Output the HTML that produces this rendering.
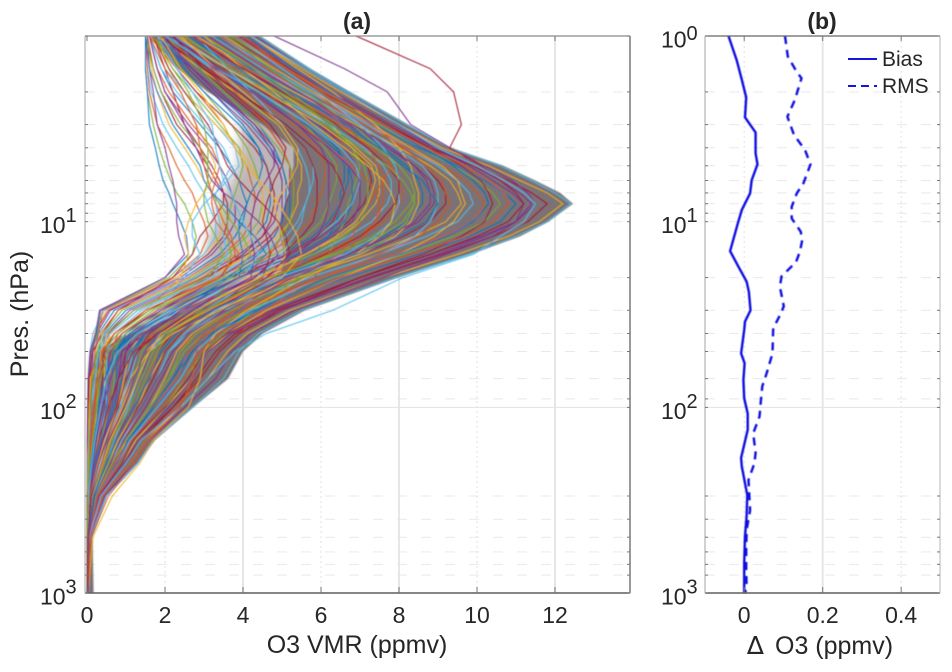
<!DOCTYPE html>
<html lang="en">
<head>
<meta charset="utf-8">
<title>O3 profiles and bias</title>
<style>
html,body{margin:0;padding:0;background:#fff;}
svg{display:block;font-family:"Liberation Sans",sans-serif;}
text{fill:#262626;}
</style>
</head>
<body>
<svg id="figure" width="952" height="672" viewBox="0 0 952 672" xmlns="http://www.w3.org/2000/svg">
  <defs>
    <clipPath id="clipA"><rect x="85" y="36" width="545" height="557"/></clipPath>
    <filter id="soft" x="-2%" y="-2%" width="104%" height="104%"><feGaussianBlur stdDeviation="0.4"/></filter>
    <filter id="softDense" x="-5%" y="-5%" width="110%" height="110%"><feGaussianBlur stdDeviation="0.8"/></filter>
    <filter id="softMedium" x="-10%" y="-10%" width="120%" height="120%"><feGaussianBlur stdDeviation="6"/></filter>
  </defs>
  <g id="gridA"></g>
  <g id="gridB"></g>
  <g id="bandsA" clip-path="url(#clipA)"></g>
  <g id="curvesA" clip-path="url(#clipA)" filter="url(#soft)"></g>
  <g id="linesB" filter="url(#soft)"></g>
  <g id="axesA"></g>
  <g id="axesB"></g>

  <text x="357" y="29" text-anchor="middle" font-size="23" font-weight="bold">(a)</text>
  <text x="822" y="29" text-anchor="middle" font-size="23" font-weight="bold">(b)</text>
  <text transform="translate(28,314) rotate(-90)" text-anchor="middle" font-size="25">Pres. (hPa)</text>
  <text x="357" y="653" text-anchor="middle" font-size="25">O3 VMR (ppmv)</text>
  <text x="747" y="654" font-size="25"><tspan font-family="'DejaVu Sans',sans-serif">∆</tspan><tspan x="775">O3 (ppmv)</tspan></text>

  <g>
    <line x1="848" x2="877" y1="59" y2="59" stroke="#1616dc" stroke-width="2"/>
    <text x="882" y="66" font-size="21">Bias</text>
    <line x1="848" x2="877" y1="86" y2="86" stroke="#1616dc" stroke-width="2" stroke-dasharray="8 5"/>
    <text x="882" y="93" font-size="21">RMS</text>
  </g>
</svg>

<script>
// Pressure levels (hPa) shared by the profiles and density bands in panel (a)
const profileLevels = [1,1.5,2,3,4,5,6,7,8,10,12,15,20,30,40,50,70,100,150,200,300,500,1000];

// Limits of the profile cloud (ppmv)
const envelopeRight = [4.44,5.72,6.74,8.23,9.31,10.67,11.49,12.13,12.46,11.82,11.1,9.82,7.97,5.59,4.51,4.0,3.62,2.72,1.74,1.31,.51,.14,.17];
const denseLeft = [1.62,2.33,3.1,4.49,5.3,5.3,5.2,5.2,5.08,4.95,4.95,5.08,4.95,2.64,1.1,.25,.05,.02,.01,.01,0,0,0];
const mediumLeft = [2.4,3,3.8,4,3.9,3.9,3.7,3.5,3.4,3.3,3.1,3.1,2.7,2.2,1,.25,.03,.01,0,0,0,0,0];
const mediumRight = [2.6,3.4,4.3,5.6,6.7,7,7,7,7,7,7,7,6.5,3.4,1.4,.4,.1,.05,.03,.03,.02,.01,.01];

// Representative O3 profiles, one value per pressure level (ppmv)
const o3Profiles = [
[1.6,1.9,2.2,2.9,3.4,3.7,3.9,4,4.1,4,3.8,3.4,2.5,.7,.3,.2,.2,.15,.1,.05,.02,.01,.01],
[1.6,1.8,2,2.6,3.1,3.4,3.6,3.7,3.8,3.8,3.6,3.2,2.4,.6,.25,.15,.15,.1,.08,.04,.02,.01,.01],
[1.55,1.7,1.9,2.3,2.8,3.1,3.3,3.5,3.6,3.6,3.5,3.1,2.3,.55,.2,.12,.1,.08,.06,.03,.01,.01,.01],
[1.55,1.65,1.8,2.1,2.5,2.8,3,3.2,3.4,3.5,3.4,3,2.3,.5,.2,.1,.08,.06,.05,.03,.01,.01,.01],
[1.5,1.55,1.65,1.95,2.3,2.6,2.8,3,3.1,3.3,3.3,3,2.2,.45,.15,.08,.05,.05,.04,.02,.01,.01,.01],
[1.5,1.55,1.6,1.8,2.1,2.3,2.5,2.7,2.8,3,3.1,2.9,2.2,.4,.3,.12,.05,.04,.03,.02,.01,.01,.01],
[1.5,1.5,1.55,1.7,1.85,2,2.15,2.3,2.5,2.7,2.8,2.7,2.1,.35,.28,.1,.04,.03,.02,.01,.01,.01,.01],
[1.5,1.5,1.55,1.6,1.75,1.85,1.95,2.1,2.2,2.4,2.55,2.6,2,.35,.25,.1,.04,.03,.02,.01,.01,.01,.01],
[1.55,1.6,1.7,1.8,2,2.1,2.2,2.25,2.3,2.3,2.35,2.5,2,.32,.22,.08,.03,.02,.01,.01,.01,.01,.01],
[1.7,2,2.2,2.5,2.9,3.2,3.4,3.5,3.5,3.2,2.9,2.7,2.2,.8,.4,.15,.06,.04,.03,.02,.01,.01,.01],
[1.8,2.1,2.4,2.8,3.1,3.3,3.2,3,2.8,2.6,2.5,2.6,2.4,1.5,.7,.3,.1,.06,.04,.02,.01,.01,.01],
[1.6,2,2.5,3.3,3.8,3.9,3.6,3.3,3,2.7,2.7,2.9,2.5,1.8,1,.5,.2,.1,.05,.03,.02,.01,.01],
[1.6,2.3,2.8,3.5,3.8,4.1,4.2,4.3,4.3,4.2,4,3.5,2.6,.8,.35,.2,.2,.2,.15,.07,.02,.01,.01],
[1.7,2.4,3,3.7,4.1,4.3,4.4,4.5,4.5,4.4,4.1,3.6,2.7,.9,.4,.25,.25,.25,.18,.08,.02,.01,.01],
[1.8,2.6,3.2,4,4.4,4.6,4.7,4.7,4.7,4.6,4.3,3.8,2.8,1,.45,.3,.3,.3,.2,.09,.03,.01,.01],
[1.7,2.7,3.4,4.3,4.7,4.9,5,5,4.9,4.8,4.5,3.9,2.9,1.1,.5,.35,.35,.35,.22,.1,.03,.01,.01],
[1.9,2.9,3.6,4.6,5,5.2,5.2,5.2,5.1,5,4.7,4.1,3,1.2,.55,.4,.4,.4,.25,.12,.04,.01,.01],
[1.8,2.9,3.8,4.9,5.3,5.5,5.5,5.4,5.4,5.2,4.9,4.2,3.1,1.3,.6,.45,.45,.45,.28,.15,.04,.01,.01],
[2.1,3.2,4,5,5.6,5.8,5.8,5.7,5.6,5.4,5.1,4.4,3.2,1.4,.7,.5,.5,.5,.3,.16,.05,.01,.01],
[1.9,3.1,4.1,5.3,5.9,6.1,6.1,6,5.9,5.7,5.3,4.6,3.3,1.5,.8,.6,.6,.55,.32,.18,.05,.01,.01],
[2.3,3.5,4.4,5.6,6.1,6.4,6.4,6.3,6.2,6,5.6,4.8,3.5,1.7,.9,.7,.7,.6,.35,.2,.06,.01,.01],
[2,3.3,4.3,5.6,6.3,6.7,6.7,6.6,6.5,6.2,5.8,5,3.6,1.8,1,.8,.75,.65,.38,.22,.07,.02,.01],
[2.4,3.7,4.7,6,6.6,6.9,7,6.9,6.8,6.5,6,5.2,3.7,1.9,1.1,.9,.8,.7,.4,.25,.08,.02,.01],
[2.1,3.5,4.5,5.9,6.8,7.2,7.3,7.2,7.1,6.7,6.2,5.4,3.9,2,1.2,1,.9,.75,.42,.28,.09,.02,.01],
[2.6,3.9,4.9,6.2,6.9,7.4,7.5,7.5,7.4,7,6.5,5.6,4.1,2.2,1.4,1.1,.95,.8,.45,.3,.1,.02,.01],
[2.2,3.6,4.7,6.2,7.1,7.6,7.8,7.8,7.7,7.3,6.7,5.8,4.2,2.3,1.5,1.2,1,.85,.48,.32,.1,.02,.01],
[2.8,4.1,5.1,6.5,7.3,7.8,8,8.1,8,7.6,7,6,4.4,2.4,1.6,1.3,1.1,.9,.5,.35,.11,.02,.02],
[2.4,3.8,4.9,6.4,7.4,8,8.3,8.4,8.3,7.9,7.3,6.3,4.6,2.5,1.7,1.4,1.2,.95,.55,.38,.12,.02,.02],
[3,4.3,5.3,6.7,7.6,8.2,8.5,8.6,8.6,8.2,7.6,6.5,4.8,2.7,1.9,1.5,1.3,1,.6,.4,.14,.03,.02],
[2.6,4,5.1,6.7,7.7,8.4,8.8,8.9,8.9,8.5,7.8,6.7,5,2.9,2,1.6,1.4,1.1,.65,.45,.15,.03,.02],
[3.2,4.5,5.5,7,7.9,8.6,9,9.2,9.2,8.8,8.1,7,5.2,3.1,2.2,1.8,1.5,1.2,.7,.5,.18,.03,.02],
[2.8,4.2,5.3,6.9,8,8.8,9.3,9.5,9.6,9.2,8.4,7.2,5.4,3.3,2.4,2,1.6,1.3,.8,.55,.2,.03,.02],
[3.4,4.7,5.7,7.2,8.2,9,9.5,9.8,9.9,9.5,8.7,7.5,5.7,3.5,2.6,2.1,1.8,1.4,.85,.6,.2,.04,.02],
[3,4.4,5.5,7.1,8.2,9.1,9.7,10,10.2,9.9,9.1,7.9,6,3.8,2.8,2.3,1.9,1.5,.9,.65,.22,.04,.03],
[3.7,5,6,7.5,8.5,9.4,10,10.4,10.6,10.2,9.4,8.1,6.3,4.1,3,2.5,2.1,1.6,1,.7,.25,.04,.03],
[3.3,4.7,5.8,7.4,8.5,9.5,10.2,10.7,11,10.6,9.8,8.5,6.6,4.4,3.2,2.7,2.3,1.8,1.1,.8,.3,.05,.03],
[4,5.3,6.3,7.8,8.9,9.9,10.6,11.1,11.4,11,10.1,8.8,7,4.7,3.5,3,2.5,1.9,1.2,.9,.3,.05,.04],
[3.6,5,6,7.6,8.8,9.9,10.8,11.4,11.8,11.3,10.4,9.1,7.3,4.9,3.8,3.3,2.8,2.2,1.3,1,.35,.06,.04],
[4.2,5.5,6.5,8,9.1,10.3,11.1,11.8,12.2,11.6,10.8,9.5,7.6,5.2,4.1,3.6,3.1,2.4,1.5,1.1,.4,.07,.05],
[4.4,5.7,6.7,8.2,9.3,10.6,11.4,12,12.4,11.8,11,9.8,7.9,5.5,4.4,3.9,3.5,2.7,1.7,1.3,.5,.08,.05],
[3.5,4.8,5.8,7,7.6,7.8,7.6,7.4,7.2,7,6.8,6.5,5.8,4.6,3.9,3.4,2.9,2.3,1.5,1.1,.4,.06,.03],
[3,4.3,5.2,6.3,6.8,7,6.9,6.8,6.7,6.6,6.4,6.2,5.4,4.3,3.5,3,2.5,2,1.3,.95,.35,.05,.03],
[2.6,3.9,4.8,5.9,6.4,6.6,6.6,6.5,6.5,6.4,6.2,5.8,5,3.9,3,2.6,2.2,1.7,1.1,.8,.3,.05,.03],
[2.2,3.4,4.3,5.4,6,6.2,6.2,6.2,6.2,6.1,5.9,5.4,4.6,3.5,2.7,2.3,1.9,1.5,.95,.7,.25,.04,.02],
[2,3.1,3.9,5,5.6,5.8,5.9,5.9,5.9,5.8,5.5,5,4.3,3.2,2.4,2,1.7,1.3,.85,.6,.2,.04,.02],
[4.2,5.4,6.3,7.4,8,8.3,8.4,8.5,8.5,8.3,7.9,7,5.2,3.6,2.7,2.3,2,1.6,1,.75,.25,.04,.02],
[3.8,5,5.9,7,7.6,7.9,8,8,8,7.8,7.4,6.6,4.9,3.3,2.5,2.1,1.8,1.4,.9,.6,.2,.03,.02],
[3.4,4.6,5.5,6.6,7.2,7.5,7.6,7.6,7.6,7.4,7,6.2,4.6,3,2.1,1.8,1.6,1.2,.75,.5,.17,.03,.02],
[3,4.2,5.1,6.2,6.8,7.1,7.2,7.2,7.2,7,6.6,5.8,4.2,2.6,1.8,1.5,1.3,1,.6,.4,.13,.03,.02],
[2.6,3.8,4.7,5.8,6.4,6.7,6.8,6.8,6.8,6.6,6.2,5.4,3.9,2.3,1.5,1.2,1.1,.8,.5,.32,.1,.02,.02],
[4.3,5.6,6.6,8,8.9,9.8,10.4,10.9,11.2,11,10.4,9.2,7.6,5.3,4.2,3.7,3.3,2.5,1.6,1.2,.45,.07,.04],
[3.9,5.2,6.2,7.7,8.8,9.6,10.1,10.3,10.4,10.2,9.6,8.6,7,5,3.9,3.4,2.9,2.2,1.4,1,.35,.06,.03],
[3.5,4.8,5.8,7.3,8.3,9.1,9.5,9.6,9.7,9.4,8.9,8,6.5,4.6,3.6,3.1,2.7,2,1.25,.9,.3,.05,.03],
[3.2,4.5,5.5,7,7.9,8.6,8.9,9,9,8.8,8.4,7.5,6,4.2,3.3,2.8,2.4,1.8,1.1,.8,.28,.05,.03],
[4,5.1,6,7.3,8.1,8.7,9.1,9.2,9.3,9,8.5,7.5,6,4,3,2.6,2.3,1.7,1.05,.7,.24,.04,.02],
[3.6,4.7,5.6,6.8,7.5,8,8.3,8.4,8.4,8.2,7.8,6.9,5.5,3.7,2.8,2.4,2.1,1.6,1,.65,.22,.04,.02],
[2.2,2.9,3.5,4.4,4.8,5,5.1,5.2,5.2,5.2,5,4.6,3.7,2.2,1.2,.8,.6,.5,.35,.2,.08,.02,.01],
[2,2.6,3.2,4.1,4.6,4.9,5,5,5,5,4.8,4.3,3.4,1.9,.9,.6,.5,.45,.3,.18,.07,.02,.01],
[1.8,2.3,2.8,3.7,4.3,4.6,4.7,4.8,4.8,4.7,4.5,4,3.1,1.6,.7,.45,.4,.35,.25,.14,.05,.01,.01],
[1.7,2.1,2.5,3.3,3.9,4.2,4.4,4.5,4.5,4.5,4.3,3.8,2.9,1.3,.6,.35,.3,.25,.2,.1,.04,.01,.01],
[2.8,3.6,4.2,5,5.4,5.6,5.7,5.7,5.6,5.5,5.3,5,4.4,3,2,1.6,1.3,1.05,.7,.5,.2,.03,.02],
[2.5,3.2,3.8,4.6,5,5.2,5.3,5.3,5.3,5.2,5,4.7,4,2.7,1.7,1.3,1.1,.9,.6,.42,.17,.03,.02],
[2,2.9,3.5,4.4,4.9,5.2,5.3,5.3,5.3,5.2,5,4.6,3.8,2.9,2.1,1.8,1.5,1.2,.75,.55,.22,.04,.02],
[1.9,2.7,3.3,4.2,4.7,5,5.1,5.1,5.1,5,4.8,4.4,3.6,2.5,1.5,1.1,.9,.7,.45,.3,.12,.02,.01],
[4.8,6.6,7.7,8.3,9.3,10.2,10.9,11.3,11.5,11,10.2,9,7.2,5,3.7,3.1,2.7,2.1,1.3,.95,.32,.05,.03],
[6.9,8.8,9.4,9.6,9.3,10.1,10.6,11,11.2,10.8,10,8.8,7,4.8,3.6,3,2.6,2,1.2,.9,.3,.05,.03],
[3,4,4.8,5.8,6.6,7.2,7.6,7.8,7.9,7.8,7.5,6.9,5.6,4.1,3.3,3,2.9,2.6,1.7,1.35,.65,.15,.03],
[4.2,5.6,6.6,8,9,10,10.7,11.2,11.5,11.2,10.6,9.9,8.1,6.3,4.6,3.8,3.1,2.4,1.4,1,.35,.06,.03],
[2.8,3.8,4.6,5.5,6.2,6.8,7.2,7.4,7.5,7.4,7.1,6.5,5.2,3.8,3.1,2.8,2.7,2.4,1.6,1.2,.55,.1,.03],
[1.7,2.2,2.7,3.4,3.9,4,3.9,3.8,3.7,3.6,3.6,3.7,3.5,1.6,.8,.4,.3,.25,.15,.1,.04,.01,.01],
[1.9,2.5,3,3.9,4.4,4.5,4.4,4.2,4.1,3.9,3.9,4,3.9,2.1,1.1,.7,.5,.4,.25,.15,.05,.02,.01],
[2,2.7,3.3,4.3,4.8,4.8,4.6,4.4,4.3,4.2,4.2,4.3,4.2,2.5,1.4,1,.8,.6,.4,.25,.08,.02,.01],
[2.2,3,3.7,4.7,5.1,5,4.8,4.7,4.6,4.5,4.6,4.7,4.5,2.8,1.8,1.3,1,.8,.5,.3,.1,.02,.01],
[2.4,3.3,4,5,5.4,5.4,5.2,5,4.8,4.9,5,5.1,4.8,3.1,2,1.5,1.2,.9,.55,.35,.12,.03,.01],
[1.6,1.9,2.3,3,3.5,3.7,3.5,3.3,3.3,3.4,3.5,3.6,3.2,1.3,.6,.3,.2,.15,.1,.06,.02,.01,.01],
[1.6,1.8,2.1,2.7,3.2,3.4,3.3,3.2,3.2,3.3,3.6,3.9,3.4,1.8,.9,.5,.3,.2,.12,.07,.03,.01,.01],
[1.5,1.7,1.9,2.4,2.9,3.1,3.1,3.2,3.4,3.7,4,4.2,3.7,2,1,.55,.35,.25,.15,.08,.03,.01,.01],
[1.5,1.6,1.8,2.2,2.6,2.9,3,3.2,3.5,3.9,4.3,4.6,4,2.3,1.2,.7,.45,.3,.18,.1,.04,.01,.01],
[1.6,1.8,2,2.5,2.8,3,3.2,3.5,3.9,4.4,4.7,4.9,4.3,2.6,1.5,.9,.6,.4,.22,.12,.05,.01,.01],
[1.7,2.1,2.5,3.1,3.4,3.6,3.9,4.2,4.5,4.9,5.1,5.2,4.6,3,1.8,1.2,.8,.55,.3,.18,.06,.02,.01],
[1.9,2.4,2.9,3.5,3.8,4.1,4.4,4.7,4.9,5.2,5.4,5.5,5,3.4,2.2,1.6,1.1,.8,.45,.28,.09,.02,.01],
[1.8,2.3,2.7,3.2,3.3,3.4,3.5,3.7,3.8,4,4.2,4.4,4,2.4,1.3,.8,.5,.35,.2,.12,.04,.01,.01],
[1.6,2,2.4,2.8,2.9,3,3.1,3.2,3.3,3.5,3.7,3.8,3.4,1.5,.7,.4,.25,.15,.1,.05,.02,.01,.01],
[1.7,2.2,2.6,3,3.1,3.1,3.1,3,3,3.1,3.3,3.5,3.1,1.2,.5,.25,.15,.1,.06,.04,.02,.01,.01],
[4.1,5.3,6.2,7.6,8.6,9.4,9.9,10.2,10.3,9.9,9.2,8,6.2,4.3,3.2,2.7,2.2,1.7,1.05,.75,.26,.05,.03],
[3.1,4.4,5.4,6.8,7.8,8.4,8.7,8.8,8.8,8.4,7.7,6.7,5.3,3.6,2.6,2.2,1.8,1.4,.85,.6,.2,.04,.02],
[2.7,4,5,6.4,7.2,7.7,8,8,7.9,7.5,7,6.1,4.8,3.2,2.3,1.9,1.6,1.2,.75,.5,.17,.03,.02],
[2.3,3.6,4.6,6,6.8,7.3,7.4,7.3,7.2,6.9,6.4,5.6,4.4,2.8,1.9,1.6,1.3,1,.6,.4,.13,.03,.02],
[2,3.3,4.4,5.7,6.5,6.9,7,6.9,6.8,6.4,5.9,5.1,3.9,2.4,1.6,1.3,1.1,.85,.5,.33,.1,.02,.01],
[3.8,5.1,6.1,7.6,8.7,9.7,10.3,10.7,10.8,10.4,9.7,8.3,6.5,4.5,3.4,2.9,2.5,1.9,1.15,.8,.28,.05,.03],
[2.5,3.7,4.7,6.1,7,7.7,8.1,8.3,8.4,8.1,7.5,6.4,4.7,3,2,1.7,1.4,1.1,.65,.45,.15,.03,.02],
[2.9,4.2,5.2,6.6,7.5,8.1,8.6,8.8,9,8.7,8,6.9,5.1,3.2,2.3,1.9,1.6,1.2,.75,.5,.17,.03,.02],
[2.2,3.3,4.2,5.4,6.2,6.7,7,7,7,6.8,6.3,5.5,4.2,2.7,1.8,1.5,1.2,.95,.55,.38,.12,.03,.02],
[1.9,3,3.9,5.1,5.8,6.3,6.5,6.6,6.5,6.3,5.9,5.1,3.9,2.4,1.6,1.3,1,.8,.5,.3,.1,.02,.01]
];

const profileColors = ['#0072BD','#D95319','#EDB120','#7E2F8E','#77AC30','#4DBEEE','#A2142F'];

// Panel (b) series: Bias
const biasPressure = [1,1.35,1.72,2.14,2.74,3.31,4.29,4.91,5.97,7.03,8.65,10,14.4,17.4,21,23.9,30,34.5,38.3,51.2,57.8,71.3,89.3,107.8,132,187,208,256,297,386,495,693,1000];
const biasValues = [-.04,-.019,-.006,.005,.002,.029,.029,.034,.019,.015,-.006,-.015,-.036,-.015,.006,.012,.016,.002,0,-.008,.001,-.002,0,.009,.009,-.008,-.006,.002,.008,.006,.002,0,0];
// Panel (b) series: RMS
const rmsPressure = [1,1.29,1.56,1.69,2.21,2.72,3.41,4.11,4.91,6.2,7.03,8.3,9.6,11.3,12.5,14.5,16.5,19.7,22.4,28.6,31.9,37.5,51.2,65.6,76.9,89.3,112,138,176,200,246,297,358,456,583,748,923,1000];
const rmsValues = [.104,.111,.134,.146,.129,.11,.127,.155,.169,.151,.134,.121,.121,.144,.148,.142,.132,.095,.091,.101,.091,.074,.072,.057,.046,.043,.039,.023,.029,.026,.011,.013,.015,.006,.005,.005,.006,.002];

// Axis ticks
const xTicksA = [0,2,4,6,8,10,12];
const xTicksB = [0,0.2,0.4];
const xLabelsB = ['0','0.2','0.4'];
const yDecades = [1,10,100,1000];
const yExponentsA = ['','1','2','3'];
const yExponentsB = ['0','1','2','3'];
const minorPressures = [2,3,4,5,6,7,8,9,20,30,40,50,70,90,300,400,500,600,700,800];

const NS = 'http://www.w3.org/2000/svg';
const xA = v => 87 + 39 * v;
const xB = v => 744.2 + 392.4 * v;
const yP = p => 36 + 185.7 * Math.log10(p);
const make = (tag, attrs, parent) => {
  const el = document.createElementNS(NS, tag);
  for (const k in attrs) el.setAttribute(k, attrs[k]);
  parent.appendChild(el);
  return el;
};
const $ = id => document.getElementById(id);

function drawGrid(parent, left, right, xFn, solid, dotted) {
  minorPressures.concat(yDecades.slice(1, 3)).forEach(p => {
    const isHundred = p === 100;
    const g = make('line', {x1: left, x2: right, y1: yP(p), y2: yP(p), stroke: isHundred ? '#e3e3e3' : '#e9e9e9', 'stroke-width': 1, 'stroke-dasharray': isHundred ? 'none' : '10 14'}, parent);
    
    
  });
  solid.forEach(v => {
    const g = make('line', {x1: xFn(v), x2: xFn(v), y1: 36, y2: 593, stroke: '#e6e6e6', 'stroke-width': 2}, parent);
    
    
  });
  dotted.forEach(v => {
    const g = make('line', {x1: xFn(v), x2: xFn(v), y1: 36, y2: 593, stroke: '#e2e2e2', 'stroke-width': 1, 'stroke-dasharray': '2 3'}, parent);
    
    
  });
}
drawGrid($('gridA'), 85, 630, xA, [4, 8, 12], [2, 6, 10]);
drawGrid($('gridB'), 705, 940, xB, [0.2], [0, 0.4]);

function bandPoints(leftVals, rightVals) {
  const a = profileLevels.map((p, i) => xA(rightVals[i]).toFixed(1) + ',' + yP(p).toFixed(1));
  const b = profileLevels.map((p, i) => xA(leftVals[i]).toFixed(1) + ',' + yP(p).toFixed(1)).reverse();
  return a.concat(b).join(' ');
}
const mediumBand = make('polygon', {points: bandPoints(mediumLeft, mediumRight), fill: '#bdb6b6', filter: 'url(#softMedium)'}, $('bandsA'));


const denseBand = make('polygon', {points: bandPoints(denseLeft, envelopeRight), fill: '#7b7276', filter: 'url(#softDense)'}, $('bandsA'));



o3Profiles.forEach((row, i) => {
  const pts = row.map((v, j) => xA(v).toFixed(1) + ',' + yP(profileLevels[j]).toFixed(1)).join(' ');
  const line = make('polyline', {points: pts, fill: 'none', stroke: profileColors[(i * 3) % 7], 'stroke-width': 1, 'stroke-linejoin': 'round'}, $('curvesA'));
  
  
});

function seriesPoints(vals, press) {
  return vals.map((v, i) => xB(v).toFixed(1) + ',' + yP(press[i]).toFixed(1)).join(' ');
}
const biasLine = make('polyline', {points: seriesPoints(biasValues, biasPressure), fill: 'none', stroke: '#1010e0', 'stroke-width': 2.4}, $('linesB'));


const rmsLine = make('polyline', {points: seriesPoints(rmsValues, rmsPressure), fill: 'none', stroke: '#1010e0', 'stroke-width': 2.4, 'stroke-dasharray': '8 6'}, $('linesB'));



function drawAxes(parent, cfg) {
  const frame = [
    [cfg.left, 36, cfg.right, 36, cfg.topColor, 1.2],
    [cfg.left, 593, cfg.right, 593, '#5f5f5f', 1.5],
    [cfg.left, 36, cfg.left, 593, '#c4c4c4', 1.5],
    [cfg.right, 36, cfg.right, 593, cfg.rightColor, cfg.rightWidth]
  ];
  frame.forEach(f => {
    const l = make('line', {x1: f[0], y1: f[1], x2: f[2], y2: f[3], stroke: f[4], 'stroke-width': f[5]}, parent);
    
    
  });
  minorPressures.concat(yDecades).forEach(p => {
    [[cfg.left, cfg.left + 3], [cfg.right - 3, cfg.right]].forEach(s => {
      const t = make('line', {x1: s[0], x2: s[1], y1: yP(p), y2: yP(p), stroke: '#777', 'stroke-width': 1}, parent);
      
      
    });
  });
  cfg.xTicks.forEach((v, i) => {
    [[593, 587], [36, 41]].forEach(s => {
      const t = make('line', {x1: cfg.xFn(v), x2: cfg.xFn(v), y1: s[0], y2: s[1], stroke: '#777', 'stroke-width': 1}, parent);
      
      
    });
    const lab = make('text', {x: cfg.xFn(v), y: 623, 'text-anchor': 'middle', 'font-size': 23}, parent);
    lab.textContent = cfg.xLabels[i];
    
    
  });
  yDecades.forEach((p, i) => {
    const exp = cfg.exponents[i];
    if (!exp) return;
    const y = yP(p);
    const base = make('text', {x: cfg.labelX, y: y + 11.5, 'font-size': 23}, parent);
    base.textContent = '10';
    
    
    const sup = make('text', {x: cfg.labelX + 25.5, y: y + (i === 0 ? 4 : 0.5), 'font-size': 20}, parent);
    sup.textContent = exp;
    
    
  });
}
drawAxes($('axesA'), {left: 85, right: 630, xFn: xA, xTicks: xTicksA, xLabels: xTicksA.map(String), exponents: yExponentsA, labelX: 40, topColor: '#8a8a8a', rightColor: '#9a9a9a', rightWidth: 2});
drawAxes($('axesB'), {left: 705, right: 940, xFn: xB, xTicks: xTicksB, xLabels: xLabelsB, exponents: yExponentsB, labelX: 661, topColor: '#666', rightColor: '#cfcfcf', rightWidth: 1.5});
</script>
</body>
</html>
